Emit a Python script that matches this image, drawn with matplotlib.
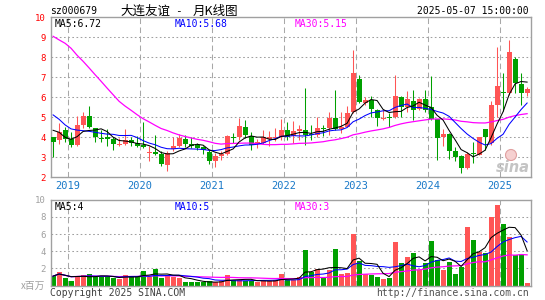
import numpy as np
import pandas as pd
import matplotlib
matplotlib.use("Agg")
import matplotlib.pyplot as plt
from matplotlib.patches import Circle
from matplotlib.transforms import IdentityTransform

plt.rcParams['lines.scale_dashes'] = False

# ---------------- data (monthly, 2018-10 .. 2025-05) ----------------
months = pd.period_range('2018-10', '2025-05', freq='M')
open_ = [4.00, 3.87, 4.37, 3.92, 3.62, 4.62, 5.07, 4.45, 3.98, 4.03,
         3.92, 3.62, 3.68, 3.85, 3.70, 3.63, 3.20, 3.28, 3.17, 2.62,
         3.40, 3.57, 3.92, 3.67, 3.62, 3.50, 3.28, 2.83, 3.05, 3.15,
         4.00, 4.00, 4.50, 4.07, 3.67, 3.72, 3.93, 3.95, 4.00, 4.37,
         4.05, 4.32, 4.38, 4.15, 4.10, 4.48, 4.45, 4.95, 4.40, 4.53,
         5.25, 6.90, 5.73, 5.87, 5.37, 4.90, 5.02, 5.00, 6.03, 5.53,
         5.82, 5.42, 5.90, 5.50, 4.90, 4.00, 4.17, 3.33, 3.07, 2.45,
         3.20, 3.12, 4.40, 3.70, 5.62, 6.25, 6.20, 7.90, 6.67, 6.20]
high = [4.02, 4.72, 4.50, 4.27, 5.07, 5.28, 5.58, 4.48, 4.37, 4.42,
        4.00, 3.98, 4.42, 4.00, 4.07, 4.78, 3.57, 4.12, 3.30, 3.30,
        4.03, 4.17, 4.10, 4.00, 3.70, 3.57, 3.35, 3.20, 3.30, 4.10,
        4.20, 4.98, 4.87, 4.27, 3.90, 4.37, 4.30, 4.45, 4.90, 4.78,
        4.80, 4.62, 6.45, 4.62, 5.00, 4.62, 5.28, 6.37, 5.28, 5.57,
        8.37, 7.12, 6.03, 6.07, 5.40, 5.37, 5.23, 7.12, 6.07, 6.32,
        6.37, 5.95, 6.37, 7.07, 4.92, 4.40, 4.20, 3.53, 3.10, 3.28,
        3.78, 4.02, 4.42, 5.83, 8.50, 7.20, 8.87, 8.00, 7.20, 6.50]
low = [3.00, 3.67, 3.78, 3.53, 3.57, 4.45, 4.45, 3.78, 3.78, 3.57,
       3.37, 3.58, 3.60, 3.58, 3.50, 3.47, 2.83, 3.13, 2.57, 2.33,
       3.33, 3.50, 3.53, 3.45, 3.35, 3.15, 2.67, 2.50, 2.85, 3.10,
       3.70, 3.87, 3.97, 3.37, 3.47, 3.67, 3.57, 3.83, 3.87, 3.85,
       3.72, 3.87, 3.62, 3.87, 4.00, 4.07, 4.12, 4.35, 4.20, 4.50,
       5.20, 5.70, 5.62, 5.00, 4.57, 4.87, 4.50, 4.95, 5.00, 5.28,
       4.87, 5.35, 5.28, 4.85, 2.87, 3.57, 2.90, 2.83, 2.20, 2.40,
       2.73, 3.10, 3.37, 3.60, 5.00, 5.30, 6.10, 6.23, 5.62, 6.07]
close = [3.77, 4.25, 3.90, 3.62, 4.62, 5.07, 4.50, 4.00, 3.93, 3.93,
         3.67, 3.67, 3.87, 3.70, 3.55, 3.52, 3.28, 3.17, 2.67, 3.20,
         3.57, 3.98, 3.67, 3.58, 3.45, 3.35, 2.83, 3.07, 3.15, 4.07,
         3.97, 4.57, 4.10, 3.62, 3.78, 4.00, 4.02, 4.03, 4.37, 4.02,
         4.33, 4.42, 4.10, 4.10, 4.45, 4.42, 4.95, 4.40, 4.53, 5.20,
         7.20, 5.75, 5.87, 5.42, 4.95, 4.98, 4.98, 6.07, 5.50, 5.92,
         5.37, 5.90, 5.37, 4.90, 3.95, 4.17, 3.33, 3.03, 2.45, 3.17,
         3.15, 4.00, 4.00, 5.62, 6.57, 6.20, 8.28, 6.70, 6.20, 6.42]
volume = [1.10, 1.60, 0.90, 0.55, 1.15, 1.20, 1.35, 0.95, 1.00, 1.10,
          0.90, 0.74, 1.25, 1.00, 1.15, 1.70, 1.00, 1.95, 0.85, 1.25,
          1.05, 0.90, 0.47, 0.38, 0.38, 0.38, 0.50, 0.38, 0.50, 1.25,
          0.66, 0.66, 0.54, 0.54, 0.47, 0.54, 0.54, 0.60, 1.35, 0.65,
          0.70, 1.00, 4.15, 1.55, 1.90, 1.00, 1.80, 4.27, 1.40, 1.43,
          6.00, 2.86, 1.31, 1.24, 0.97, 0.77, 0.93, 5.03, 2.67, 3.37,
          3.83, 1.81, 2.67, 5.19, 2.98, 1.81, 2.79, 1.35, 2.20, 6.85,
          5.30, 3.95, 3.76, 8.02, 9.37, 7.16, 5.60, 3.56, 3.67, 0.30]
# moving-average values before enough history is on the chart
ma5_lead = [4.35, 4.25, 4.00, 3.90]
ma10_lead = [5.12, 4.90, 4.62, 4.42, 4.36, 4.33, 4.30, 4.25, 4.20]
ma30_lead = [9.05, 8.87, 8.70, 8.45, 8.10, 7.80, 7.47, 7.13, 6.80, 6.46,
             6.13, 5.80, 5.56, 5.35, 5.13, 4.93, 4.77, 4.60, 4.44, 4.34,
             4.22, 4.12, 4.04, 3.97, 3.90, 3.85, 3.78, 3.70, 3.66]

header_ma = ["MA5:6.72", "MA10:5.68", "MA30:5.15"]
vol_header_ma = ["MA5:4", "MA10:5", "MA30:3"]
price_ticks = [2, 3, 4, 5, 6, 7, 8, 9, 10]
vol_ticks = [2, 4, 6, 8, 10]

# ---------------- derived ----------------
o = np.array(open_); h = np.array(high); l = np.array(low); c = np.array(close)
v = np.array(volume)
x = np.arange(len(months))
cs = pd.Series(c)

def with_lead(period, lead):
    m = cs.rolling(period).mean().to_numpy()
    m[:len(lead)] = lead
    return m

ma5 = with_lead(5, ma5_lead)
ma10 = with_lead(10, ma10_lead)
ma30 = with_lead(30, ma30_lead)
vs = pd.Series(v)
vma5 = vs.rolling(5, min_periods=1).mean()
vma10 = vs.rolling(10, min_periods=1).mean()
vma30 = vs.rolling(30, min_periods=1).mean()

RED = '#ff5555'
GREEN = '#00a000'
up = c >= o
cols = np.where(up, RED, GREEN)

year_idx = [i for i, m in enumerate(months) if m.month == 1]
year_pos = [i - 0.5 for i in year_idx]
year_lab = [str(months[i].year) for i in year_idx]

# ---------------- figure ----------------
W, H = 545, 300
fig = plt.figure(figsize=(W / 100, H / 100), dpi=100)
fig.patch.set_facecolor('white')
L, R = 50.7, 530.7
ax = fig.add_axes([L / W, 1 - 177.3 / H, (R - L) / W, 160 / H])
axv = fig.add_axes([L / W, 1 - 285.6 / H, (R - L) / W, 86 / H])

MONO = 'DejaVu Sans Mono'
CJK = ['Noto Sans CJK SC', 'DejaVu Sans']
FRAME = '#a0a0a0'
LW = 0.75

for a in (ax, axv):
    a.set_xlim(-0.4, len(x) - 0.4)
    for s in a.spines.values():
        s.set_color(FRAME)
        s.set_linewidth(1.0)
    a.tick_params(length=0)
    for yp in year_pos:
        a.axvline(yp, color='#a8a8a8', lw=LW, ls=(0, (4, 2.5)), zorder=0)

# price panel
ax.set_ylim(2, 10)
for g in range(3, 10):
    ax.axhline(g, color='#a0a0a0', lw=LW, ls=(0, (1.2, 1.8)), zorder=0)
ax.vlines(x, l, h, colors=cols, lw=LW, zorder=2)
body_bot = np.minimum(o, c)
body_h = np.maximum(np.abs(c - o), 0.05)
ax.bar(x, body_h, bottom=body_bot, width=0.8, color=cols, lw=0, zorder=3)
ax.plot(x, ma30, color='#ff00ff', lw=0.9, zorder=4)
ax.plot(x, ma10, color='#0000ff', lw=LW, zorder=4)
ax.plot(x, ma5, color='#000000', lw=LW, zorder=5)
ax.set_yticks(price_ticks)
ax.set_yticklabels([str(t) for t in price_ticks], color='#ff0000',
                   fontfamily=MONO, fontsize=6.5)
ax.tick_params(axis='y', pad=3.5)
ax.set_xticks(year_pos)
ax.set_xticklabels(year_lab, color='#1878c8', fontfamily=MONO, fontsize=7.5)
ax.tick_params(axis='x', pad=3)

# volume panel
axv.set_ylim(0, 10)
for g in range(2, 10, 2):
    axv.axhline(g, color='#a0a0a0', lw=LW, ls=(0, (1.2, 1.8)), zorder=0)
axv.bar(x, v, width=0.83, color=cols, lw=0, zorder=2)
axv.plot(x, vma30, color='#ff00ff', lw=0.9, zorder=4)
axv.plot(x, vma10, color='#0000ff', lw=LW, zorder=4)
axv.plot(x, vma5, color='#000000', lw=LW, zorder=5)
axv.set_yticks(vol_ticks)
axv.set_yticklabels([str(t) for t in vol_ticks], color='#a0a0a0',
                    fontfamily=MONO, fontsize=6.5)
axv.tick_params(axis='y', pad=3.5)
axv.set_xticks([])

# ---------------- texts ----------------
def ft(px, py, s, **kw):
    fig.text(px / W, 1 - py / H, s, **kw)

ft(50, 11.5, "sz000679", fontfamily=MONO, fontsize=7, va='center', ha='left')
ft(120.7, 11.5, "大连友谊", fontfamily=CJK, fontsize=9, va='center', ha='left')
ft(178.5, 11.5, "-", fontfamily=MONO, fontsize=8, va='center', ha='center')
ft(192.7, 11.5, "月K线图", fontfamily=CJK, fontsize=9, va='center', ha='left')
ft(529, 11.5, "2025-05-07 15:00:00", fontfamily=MONO, fontsize=7, va='center', ha='right')

ft(54.3, 24, header_ma[0], fontfamily=MONO, fontsize=7, va='center', color='#000000')
ft(174.3, 24, header_ma[1], fontfamily=MONO, fontsize=7, va='center', color='#0000ff')
ft(294.3, 24, header_ma[2], fontfamily=MONO, fontsize=7, va='center', color='#ff00ff')

ft(54.3, 206.8, vol_header_ma[0], fontfamily=MONO, fontsize=7, va='center', color='#000000')
ft(174.7, 206.8, vol_header_ma[1], fontfamily=MONO, fontsize=7, va='center', color='#0000ff')
ft(294.7, 206.8, vol_header_ma[2], fontfamily=MONO, fontsize=7, va='center', color='#ff00ff')

ft(45.5, 286, "x百万", fontfamily=CJK, fontsize=7, va='center', ha='right', color='#a0a0a0')
ft(50, 292.5, "Copyright 2025 SINA.COM", fontfamily=MONO, fontsize=7, va='center', color='#404040')
ft(529, 292.5, "http://finance.sina.com.cn", fontfamily=MONO, fontsize=7, va='center',
   ha='right', color='#505050')

# sina watermark
fig.patches.append(Circle((511, H - 155), 5.5, transform=IdentityTransform(),
                          facecolor='#f6d0d0', edgecolor='#e0a0a0', lw=0.8, zorder=10))
ft(496, 167.5, "sina", fontfamily='DejaVu Sans', fontsize=10.5, style='italic',
   weight='bold', va='center', ha='left', color='#c4c4c4')

fig.savefig('out.png', dpi=100)
